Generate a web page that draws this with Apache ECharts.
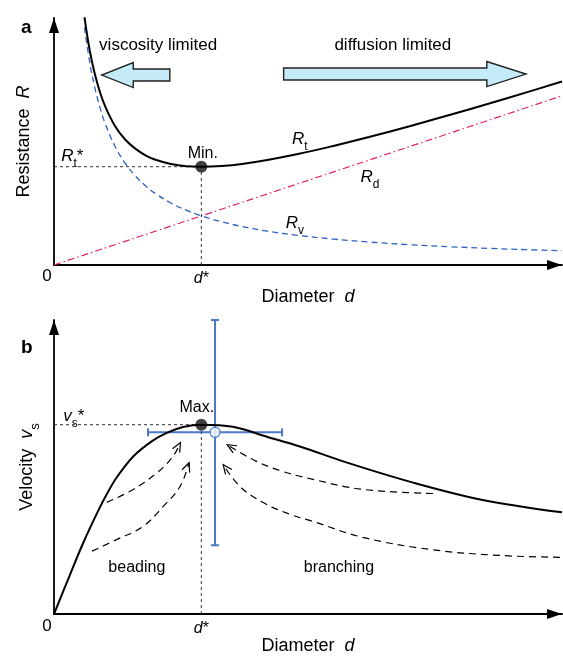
<!DOCTYPE html>
<html><head><meta charset="utf-8">
<script src="https://cdn.jsdelivr.net/npm/echarts@6/dist/echarts.min.js"></script>
<style>html,body{margin:0;padding:0;background:#fff}#c{width:563px;height:656px}</style>
</head><body><div id="c"></div>
<script>
const FONT = "'Liberation Sans', Arial, sans-serif";

// ---------- Panel a : resistance vs diameter ----------
const diamA = [6,7,8,9,10,12,14,16,18,20,23,26,29,33,37,42,48,55,62,70,78,86,93,100];
const rViscous = [96.2,82.4,72.1,64.1,57.7,48.1,41.2,36.1,32.1,28.9,25.1,22.2,19.9,17.5,15.6,13.7,12.0,10.5,9.3,8.2,7.4,6.7,6.2,5.8];
const rTotal = [100.3,87.2,77.6,70.3,64.6,56.3,50.8,47.1,44.4,42.6,40.9,40.0,39.8,40.1,40.9,42.5,44.9,48.2,51.8,56.2,60.8,65.6,69.9,74.3];
const diamRd = [0, 100];
const rDiffusive = [0, 68.5];
const dStar = 29;
const rStar = 39.8;
// regime arrows: [tailX, headBaseX, tipX, y]
const regimeArrows = [[22.8, 15.6, 9.4, 76.9], [45.2, 85.2, 92.9, 77.3]];

// ---------- Panel b : velocity vs diameter ----------
const diamB = [0, 3.1, 5.7, 8.5, 10.4, 12.4, 15.6, 19.3, 22.2, 25.4, 29, 35.2, 41.9, 48.4, 57.7, 70.7, 83.9, 100];
const velocity = [0, 13.2, 24.0, 34.4, 40.8, 46.6, 53.6, 58.8, 61.6, 63.6, 64.4, 63.7, 60.3, 57.0, 51.5, 44.7, 39.0, 34.6];
const vStar = 64.4;
// error cross: [centerX, centerY, xLow, xHigh, yLow, yHigh]
const errorCross = [31.7, 61.8, 18.5, 44.9, 23.4, 100];
const beadingArrows = [
  [[10.4,38.0],[15.6,42.4],[20.3,48.1],[23.4,53.6],[24.9,58.3]],
  [[7.5,21.4],[12.4,25.4],[17.5,29.8],[21.5,36.6],[24.8,43.4],[26.6,51.5]]
];
const branchingArrows = [
  [[74.6,41.0],[60.8,42.4],[51.0,45.8],[44.5,48.8],[39.2,52.5],[34.1,57.6]],
  [[99.6,19.3],[87.2,20.0],[74.0,22.0],[60.8,26.1],[51.0,31.5],[46.5,33.9],[41.1,38.0],[36.6,43.4],[33.3,50.8]]
];

const zip = (xs, ys) => xs.map((x, i) => [x, ys[i]]);

const rich = {
  n: {fontFamily: FONT, fontSize: 17, color: '#000', lineHeight: 22, verticalAlign: 'top'},
  i: {fontFamily: FONT, fontStyle: 'italic', fontSize: 17, color: '#000', lineHeight: 22, verticalAlign: 'top'},
  s: {fontFamily: FONT, fontSize: 12, color: '#000', lineHeight: 22, verticalAlign: 'bottom'},
  ax: {fontFamily: FONT, fontSize: 18, color: '#000', lineHeight: 24, verticalAlign: 'top'},
  axi: {fontFamily: FONT, fontSize: 18, fontStyle: 'italic', color: '#000', lineHeight: 24, verticalAlign: 'top'},
  axs: {fontFamily: FONT, fontSize: 13, color: '#000', lineHeight: 24, verticalAlign: 'bottom'}
};

function txt(x, y, formatter, size, offset) {
  return {value: [x, y], label: {show: true, position: 'inside', formatter, fontFamily: FONT,
    fontSize: size || 16, color: '#000', textBorderWidth: 0, opacity: 1, rich, offset: offset || [0, 0]}};
}

function axisPair(idx, nameX, nameY, labelVals, yGap) {
  const line = {show: true, lineStyle: {color: '#000', width: 1.8},
    symbol: ['none', 'triangle'], symbolSize: [10, 15], symbolOffset: [0, -7.5]};
  return {
    x: {gridIndex: idx, type: 'value', min: 0, max: 100, axisLine: line, axisTick: {show: false},
      splitLine: {show: false}, name: nameX, nameLocation: 'middle', nameGap: 20,
      nameTextStyle: {fontFamily: FONT, fontSize: 18, color: '#000', rich},
      axisLabel: {show: true, customValues: labelVals, margin: 6, fontFamily: FONT, fontSize: 16, color: '#000',
        formatter: () => '{i|d}*', rich: {i: {fontFamily: FONT, fontStyle: 'italic', fontSize: 16, color: '#000'}}}},
    y: {gridIndex: idx, type: 'value', min: 0, max: 100, axisLine: line, axisTick: {show: false},
      splitLine: {show: false}, axisLabel: {show: false}, name: nameY, nameLocation: 'middle', nameGap: yGap,
      nameTextStyle: {fontFamily: FONT, fontSize: 18, color: '#000', rich}}
  };
}
const axA = axisPair(0, '{ax|Diameter  }{axi|d}', '{ax|Resistance  }{axi|R}', [dStar], 15);
const axB = axisPair(1, '{ax|Diameter  }{axi|d}', '{ax|Velocity  }{axi|v}{axs|s}', [dStar], 12);

const chart = echarts.init(document.getElementById('c'), null, {renderer: 'canvas'});
const guide = {color: '#333', width: 1, type: [3, 3]};
const arrowDash = {color: '#000', width: 1.2, type: [7, 5]};

function regimeRender(params, api) {
  const a = regimeArrows[params.dataIndex];
  const tail = api.coord([a[0], a[3]]), base = api.coord([a[1], a[3]]), tip = api.coord([a[2], a[3]]);
  const bh = 6, hh = 12.5;
  return {type: 'polygon', shape: {points: [
    [tail[0], tail[1] - bh], [base[0], base[1] - bh], [base[0], base[1] - hh], tip,
    [base[0], base[1] + hh], [base[0], base[1] + bh], [tail[0], tail[1] + bh]]},
    style: {fill: '#c5eaf8', stroke: '#222', lineWidth: 1.4}};
}
function chevronRender(params, api) {
  const p = api.coord([api.value(0), api.value(1)]);
  const q = api.coord([api.value(2), api.value(3)]);
  let dx = p[0] - q[0], dy = p[1] - q[1];
  const L = Math.hypot(dx, dy); dx /= L; dy /= L;
  const len = 10, ang = 0.42;
  const arm = s => { const c = Math.cos(s * ang), sn = Math.sin(s * ang);
    const rx = dx * c - dy * sn, ry = dx * sn + dy * c; return [p[0] - len * rx, p[1] - len * ry]; };
  return {type: 'polyline', shape: {points: [arm(1), p, arm(-1)]}, style: {stroke: '#000', lineWidth: 1.2, fill: null}};
}
function errorRender(params, api) {
  const e = errorCross;
  const l = api.coord([e[2], e[1]]), r = api.coord([e[3], e[1]]);
  const b = api.coord([e[0], e[4]]), t = api.coord([e[0], e[5]]);
  const cap = 4, st = {stroke: '#4a78c6', lineWidth: 2};
  const ln = (x1, y1, x2, y2) => ({type: 'line', shape: {x1, y1, x2, y2}, style: st});
  return {type: 'group', children: [
    ln(l[0], l[1], r[0], r[1]), ln(t[0], t[1], b[0], b[1]),
    ln(l[0], l[1] - cap, l[0], l[1] + cap), ln(r[0], r[1] - cap, r[0], r[1] + cap),
    ln(t[0] - cap, t[1], t[0] + cap, t[1]), ln(b[0] - cap, b[1], b[0] + cap, b[1])]};
}

const labelSeries = (xi, items) => ({type: 'scatter', xAxisIndex: xi, yAxisIndex: xi, symbolSize: 0,
  itemStyle: {color: '#000'}, z: 10, silent: true, data: items});

const allArrowsB = beadingArrows.concat(branchingArrows);
const series = [
  // panel a
  {type: 'line', xAxisIndex: 0, yAxisIndex: 0, data: zip(diamRd, rDiffusive), symbol: 'none',
    lineStyle: {color: '#e0245e', width: 1.2, type: [7, 3, 1.5, 3]}},
  {type: 'line', xAxisIndex: 0, yAxisIndex: 0, data: zip(diamA, rViscous), symbol: 'none', smooth: 0.4,
    lineStyle: {color: '#2e62c0', width: 1.3, type: [6, 4]}},
  {type: 'line', xAxisIndex: 0, yAxisIndex: 0, data: [[0, rStar], [dStar, rStar]], symbol: 'none', lineStyle: guide},
  {type: 'line', xAxisIndex: 0, yAxisIndex: 0, data: [[dStar, 0], [dStar, rStar]], symbol: 'none', lineStyle: guide},
  {type: 'line', xAxisIndex: 0, yAxisIndex: 0, data: zip(diamA, rTotal), symbol: 'none', smooth: 0.4,
    lineStyle: {color: '#000', width: 2}},
  {type: 'scatter', xAxisIndex: 0, yAxisIndex: 0, data: [[dStar, rStar]], symbolSize: 12, itemStyle: {color: '#111'}},
  {type: 'custom', xAxisIndex: 0, yAxisIndex: 0, data: regimeArrows.map(a => [a[2], a[3]]), renderItem: regimeRender},
  labelSeries(0, [
    txt(20.5, 89.1, 'viscosity limited', 17),
    txt(66.7, 89.1, 'diffusion limited', 17),
    txt(29.3, 45.3, 'Min.', 16),
    txt(3.6, 43.1, '{i|R}{s|t}{n|*}'),
    txt(48.4, 49.8, '{i|R}{s|t}'),
    txt(62.2, 34.6, '{i|R}{s|d}'),
    txt(47.4, 16.0, '{i|R}{s|v}'),
    txt(0, 0, '0', 17, [-7, 11])
  ]),
  // panel b
  {type: 'line', xAxisIndex: 1, yAxisIndex: 1, data: [[0, vStar], [dStar, vStar]], symbol: 'none', lineStyle: guide},
  {type: 'line', xAxisIndex: 1, yAxisIndex: 1, data: [[dStar, 0], [dStar, vStar]], symbol: 'none', lineStyle: guide},
  {type: 'line', xAxisIndex: 1, yAxisIndex: 1, data: zip(diamB, velocity), symbol: 'none', smooth: 0.35,
    lineStyle: {color: '#000', width: 2}},
  ...allArrowsB.map(pts => ({type: 'line', xAxisIndex: 1, yAxisIndex: 1, data: pts, symbol: 'none', smooth: 0.4,
    lineStyle: arrowDash})),
  {type: 'custom', xAxisIndex: 1, yAxisIndex: 1, renderItem: chevronRender,
    data: allArrowsB.map(pts => { const p = pts[pts.length - 1], q = pts[pts.length - 2]; return [p[0], p[1], q[0], q[1]]; })},
  {type: 'custom', xAxisIndex: 1, yAxisIndex: 1, renderItem: errorRender, data: [[errorCross[0], errorCross[1]]]},
  {type: 'scatter', xAxisIndex: 1, yAxisIndex: 1, data: [[dStar, vStar]], symbolSize: 12, itemStyle: {color: '#111'}},
  {type: 'scatter', xAxisIndex: 1, yAxisIndex: 1, data: [[errorCross[0], errorCross[1]]], symbolSize: 10,
    itemStyle: {color: '#fff', borderColor: '#4a78c6', borderWidth: 1.5}},
  labelSeries(1, [
    txt(28.1, 70.2, 'Max.', 16),
    txt(3.9, 66.3, '{i|v}{s|s}{n|*}'),
    txt(16.3, 15.9, 'beading', 16),
    txt(56.1, 15.9, 'branching', 16),
    txt(0, 0, '0', 17, [-7, 12])
  ])
];

chart.setOption({
  animation: false,
  backgroundColor: '#fff',
  title: [
    {text: 'a', left: 21, top: 18, padding: 0, textStyle: {fontFamily: FONT, fontSize: 19, fontWeight: 'bold', color: '#000'}},
    {text: 'b', left: 21, top: 338, padding: 0, textStyle: {fontFamily: FONT, fontSize: 19, fontWeight: 'bold', color: '#000'}}
  ],
  grid: [
    {left: 54, top: 18, width: 508, height: 247},
    {left: 54, top: 320, width: 508, height: 295}
  ],
  xAxis: [axA.x, axB.x],
  yAxis: [axA.y, axB.y],
  series
});
</script></body></html>
